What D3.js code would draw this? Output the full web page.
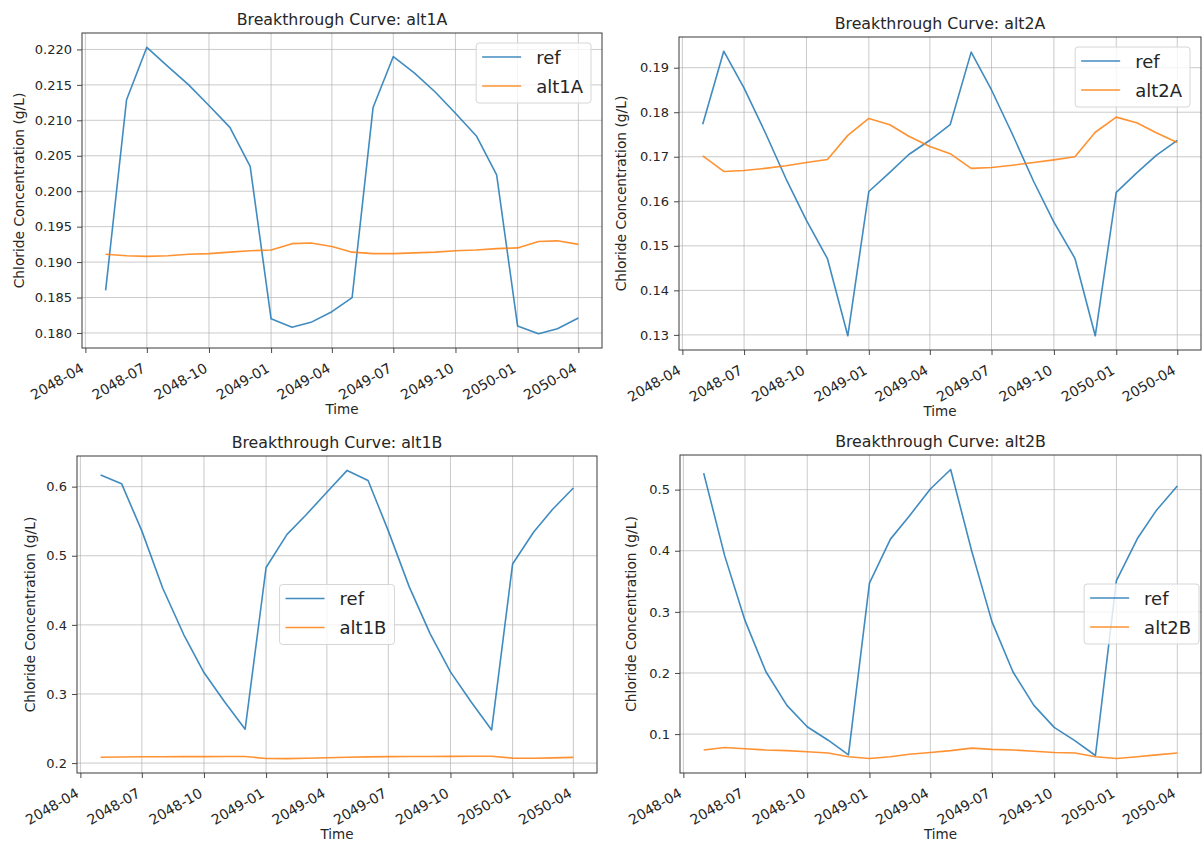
<!DOCTYPE html>
<html>
<head>
<meta charset="utf-8">
<script src="https://cdn.jsdelivr.net/npm/d3@7"></script>
<style>
  html, body { margin: 0; padding: 0; background: #fff; }
  svg { display: block; font-family: "DejaVu Sans", sans-serif; }
</style>
</head>
<body>
<svg id="chart" width="1204" height="843"></svg>
<script>
// Monthly sampling dates (first of each month)
const months = ["2048-05-01","2048-06-01","2048-07-01","2048-08-01","2048-09-01","2048-10-01",
  "2048-11-01","2048-12-01","2049-01-01","2049-02-01","2049-03-01","2049-04-01",
  "2049-05-01","2049-06-01","2049-07-01","2049-08-01","2049-09-01","2049-10-01",
  "2049-11-01","2049-12-01","2050-01-01","2050-02-01","2050-03-01","2050-04-01"];

// Chloride concentration (g/L) per scenario
const ref1A = [0.1860, 0.2129, 0.2203, 0.2176, 0.2150, 0.2121, 0.2090, 0.2035, 0.1820, 0.1808, 0.1815, 0.1830,
  0.1850, 0.2118, 0.2190, 0.2167, 0.2140, 0.2110, 0.2078, 0.2023, 0.1810, 0.1799, 0.1806, 0.1821];
const alt1A = [0.1911, 0.1909, 0.1908, 0.1909, 0.1911, 0.1912, 0.1914, 0.1916, 0.1917, 0.1926, 0.1927, 0.1922,
  0.1914, 0.1912, 0.1912, 0.1913, 0.1914, 0.1916, 0.1917, 0.1919, 0.1920, 0.1929, 0.1930, 0.1925];

const ref2A = [0.1773, 0.1937, 0.1854, 0.1755, 0.1650, 0.1557, 0.1471, 0.1298, 0.1622, 0.1665, 0.1705, 0.1737,
  0.1772, 0.1935, 0.1850, 0.1750, 0.1645, 0.1553, 0.1472, 0.1298, 0.1620, 0.1665, 0.1703, 0.1737];
const alt2A = [0.1702, 0.1667, 0.1669, 0.1674, 0.1680, 0.1687, 0.1694, 0.1748, 0.1786, 0.1772, 0.1746, 0.1723,
  0.1707, 0.1674, 0.1676, 0.1681, 0.1687, 0.1693, 0.1700, 0.1755, 0.1789, 0.1776, 0.1754, 0.1732];

const ref1B = [0.6168, 0.6043, 0.536, 0.453, 0.386, 0.331, 0.288, 0.249, 0.483, 0.531, 0.559, 0.592,
  0.6235, 0.609, 0.536, 0.455, 0.387, 0.332, 0.288, 0.248, 0.488, 0.534, 0.567, 0.598];
const alt1B = [0.2085, 0.2089, 0.2091, 0.2092, 0.2093, 0.2094, 0.2095, 0.2095, 0.2066, 0.2065, 0.2070, 0.2077,
  0.2085, 0.2090, 0.2093, 0.2095, 0.2096, 0.2097, 0.2098, 0.2098, 0.2072, 0.2071, 0.2076, 0.2083];

const ref2B = [0.527, 0.392, 0.286, 0.202, 0.147, 0.112, 0.090, 0.066, 0.347, 0.419, 0.457, 0.501,
  0.533, 0.400, 0.284, 0.202, 0.147, 0.111, 0.089, 0.065, 0.351, 0.420, 0.466, 0.506];
const alt2B = [0.074, 0.078, 0.076, 0.074, 0.073, 0.071, 0.069, 0.063, 0.060, 0.063, 0.067, 0.070,
  0.073, 0.077, 0.075, 0.074, 0.072, 0.070, 0.069, 0.063, 0.060, 0.063, 0.066, 0.069];

// Axis ticks
const xTickLabels = ["2048-04","2048-07","2048-10","2049-01","2049-04","2049-07","2049-10","2050-01","2050-04"];
const yTicks1A = [0.180, 0.185, 0.190, 0.195, 0.200, 0.205, 0.210, 0.215, 0.220];
const yTicks2A = [0.13, 0.14, 0.15, 0.16, 0.17, 0.18, 0.19];
const yTicks1B = [0.2, 0.3, 0.4, 0.5, 0.6];
const yTicks2B = [0.1, 0.2, 0.3, 0.4, 0.5];

const seriesNames = ["ref"];
const colors = ["#1f77b4", "#ff7f0e"];

const parse = d3.utcParse("%Y-%m-%d");
const dates = months.map(parse);
const tickDates = xTickLabels.map(s => parse(s + "-01"));

const panels = [
  { name: "alt1A", ref: ref1A, alt: alt1A, yTicks: yTicks1A, fmt: d3.format(".3f"),
    box: { l: 82, r: 602, t: 33, b: 348 }, ylabX: 20, legend: { mode: "ur" } },
  { name: "alt2A", ref: ref2A, alt: alt2A, yTicks: yTicks2A, fmt: d3.format(".2f"),
    box: { l: 679, r: 1201, t: 37, b: 350 }, ylabX: 622, legend: { mode: "ur" } },
  { name: "alt1B", ref: ref1B, alt: alt1B, yTicks: yTicks1B, fmt: d3.format(".1f"),
    box: { l: 77, r: 597, t: 456, b: 773 }, ylabX: 31, legend: { mode: "center" } },
  { name: "alt2B", ref: ref2B, alt: alt2B, yTicks: yTicks2B, fmt: d3.format(".1f"),
    box: { l: 680, r: 1201, t: 455, b: 773 }, ylabX: 632, legend: { mode: "cr" } }
];

const svg = d3.select("#chart");
const textColor = "#262626";

panels.forEach(p => {
  const { l, r, t, b } = p.box;
  const g = svg.append("g");

  // 5% padding on both axes, as in matplotlib autoscaling
  const xMin = d3.min(dates), xMax = d3.max(dates);
  const xPad = (xMax - xMin) * 0.05;
  const x = d3.scaleUtc().domain([new Date(+xMin - xPad), new Date(+xMax + xPad)]).range([l, r]);

  const all = p.ref.concat(p.alt);
  const yMin = d3.min(all), yMax = d3.max(all);
  const yPad = (yMax - yMin) * 0.05;
  const y = d3.scaleLinear().domain([yMin - yPad, yMax + yPad]).range([b, t]);

  // grid
  g.append("g").selectAll("line").data(tickDates).join("line")
    .attr("x1", d => x(d)).attr("x2", d => x(d)).attr("y1", t).attr("y2", b)
    .attr("stroke", "#b0b0b0").attr("stroke-opacity", 0.75).attr("stroke-width", 0.9);
  g.append("g").selectAll("line").data(p.yTicks).join("line")
    .attr("x1", l).attr("x2", r).attr("y1", d => y(d)).attr("y2", d => y(d))
    .attr("stroke", "#b0b0b0").attr("stroke-opacity", 0.75).attr("stroke-width", 0.9);

  // lines
  const line = d3.line().x((d, i) => x(dates[i])).y(d => y(d));
  [p.ref, p.alt].forEach((s, k) => {
    g.append("path").datum(s).attr("d", line)
      .attr("fill", "none").attr("stroke", colors[k]).attr("stroke-width", 1.6)
      .attr("stroke-opacity", 0.85).attr("stroke-linejoin", "round");
  });

  // x axis
  const xAxis = d3.axisBottom(x).tickValues(tickDates)
    .tickFormat((d, i) => xTickLabels[i]).tickSizeOuter(0).tickSize(5).tickPadding(0);
  const xg = g.append("g").attr("transform", `translate(0,${b})`).call(xAxis);
  xg.select(".domain").remove();
  xg.selectAll(".tick line").attr("stroke", "#333").attr("stroke-width", 0.9);
  xg.selectAll(".tick text")
    .attr("fill", textColor).attr("font-size", 14).attr("font-family", "DejaVu Sans")
    .attr("text-anchor", "end").attr("dy", null).attr("y", null)
    .attr("transform", "translate(-1,23) rotate(-30)");

  // y axis
  const yAxis = d3.axisLeft(y).tickValues(p.yTicks).tickFormat(p.fmt)
    .tickSizeOuter(0).tickSize(5).tickPadding(5);
  const yg = g.append("g").attr("transform", `translate(${l},0)`).call(yAxis);
  yg.select(".domain").remove();
  yg.selectAll(".tick line").attr("stroke", "#333").attr("stroke-width", 0.9);
  yg.selectAll(".tick text").attr("fill", textColor).attr("font-size", 13)
    .attr("font-family", "DejaVu Sans");

  // frame
  g.append("rect").attr("x", l).attr("y", t).attr("width", r - l).attr("height", b - t)
    .attr("fill", "none").attr("stroke", "#3a3a3a").attr("stroke-width", 1);

  // titles and axis labels
  g.append("text").attr("x", (l + r) / 2).attr("y", t - 8)
    .attr("text-anchor", "middle").attr("font-size", 15.8).attr("fill", textColor)
    .text("Breakthrough Curve: " + p.name);
  g.append("text").attr("x", (l + r) / 2).attr("y", b + 66)
    .attr("text-anchor", "middle").attr("font-size", 13.5).attr("fill", textColor)
    .text("Time");
  g.append("text")
    .attr("transform", `translate(${p.ylabX},${(t + b) / 2}) rotate(-90)`)
    .attr("text-anchor", "middle").attr("dominant-baseline", "middle")
    .attr("font-size", 13.8).attr("fill", textColor)
    .text("Chloride Concentration (g/L)");

  // legend
  const labels = seriesNames.concat([p.name]);
  const fs = 18, rowH = 29, lineLen = 39, gap = 15, pad = 6;
  const lg = g.append("g");
  const tmp = lg.append("text").attr("font-size", fs).text(p.name);
  const tw = tmp.node().getComputedTextLength();
  tmp.remove();
  const bw = pad + lineLen + gap + tw + pad + 2;
  const bh = rowH * 2 + 2;
  let bx, by;
  if (p.legend.mode === "ur") { bx = r - 11 - bw; by = t + 10; }
  else if (p.legend.mode === "center") { bx = (l + r) / 2 - bw / 2; by = (t + b) / 2 - bh / 2; }
  else { bx = r - 2 - bw; by = (t + b) / 2 - bh / 2; }
  lg.append("rect").attr("x", bx).attr("y", by).attr("width", bw).attr("height", bh)
    .attr("rx", 3).attr("fill", "#fff").attr("fill-opacity", 0.8)
    .attr("stroke", "#d6d6d6").attr("stroke-width", 1);
  labels.forEach((lab, k) => {
    const cy = by + 14 + k * rowH;
    lg.append("line").attr("x1", bx + pad).attr("x2", bx + pad + lineLen)
      .attr("y1", cy).attr("y2", cy)
      .attr("stroke", colors[k]).attr("stroke-width", 1.6).attr("stroke-opacity", 0.85);
    lg.append("text").attr("x", bx + pad + lineLen + gap).attr("y", cy)
      .attr("dominant-baseline", "central").attr("font-size", fs).attr("fill", textColor)
      .text(lab);
  });
});
</script>
</body>
</html>
